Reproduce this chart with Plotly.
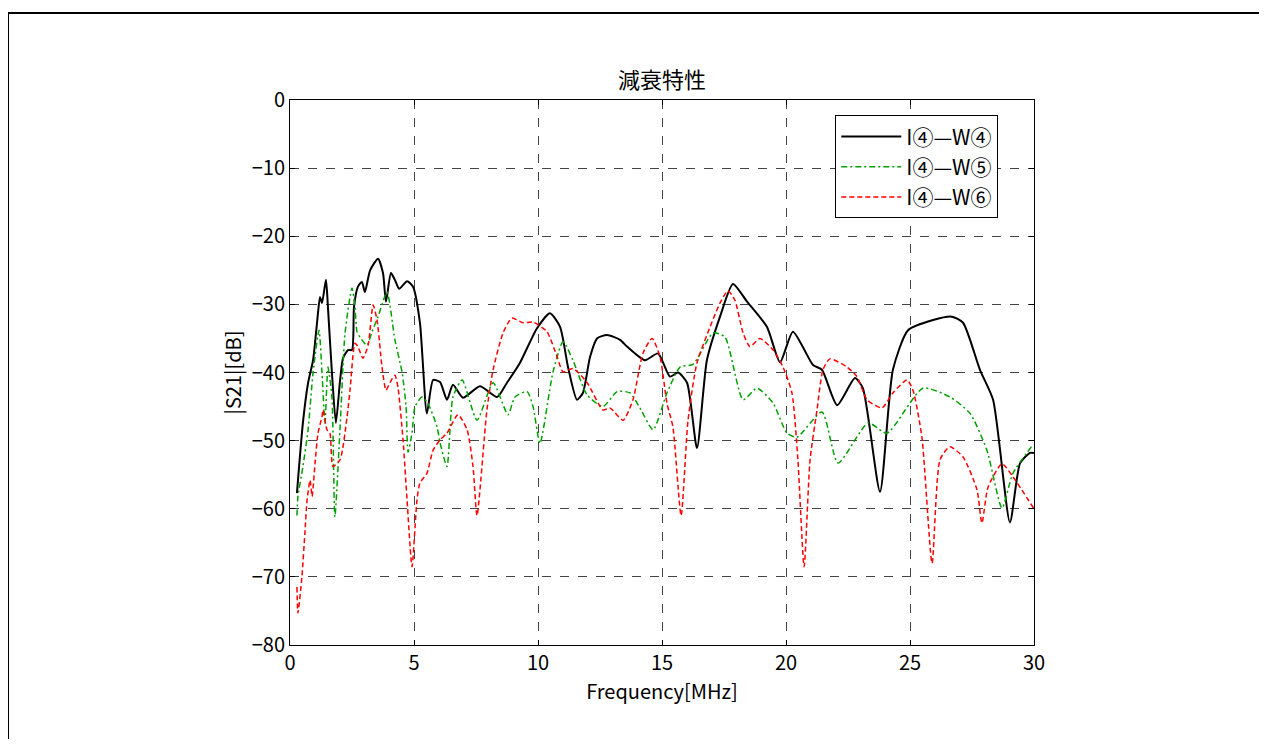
import plotly.graph_objects as go

# I4-W4 (black, solid)
freq_w4 = [0.28, 0.52, 0.73, 0.93, 1.09, 1.21, 1.29, 1.45, 1.53, 1.69, 1.85, 2.02, 2.14, 2.34,
           2.50, 2.58, 2.74, 2.90, 3.02, 3.23, 3.55, 3.75, 3.87, 4.07, 4.23, 4.40, 4.72, 4.96,
           5.24, 5.52, 5.77, 6.05, 6.33, 6.57, 6.98, 7.66, 8.35, 8.75, 9.27, 9.96, 10.48, 10.89,
           11.21, 11.57, 11.81, 12.10, 12.38, 12.78, 13.31, 13.59, 14.31, 14.84, 15.32, 15.65,
           16.01, 16.41, 16.81, 17.34, 17.86, 18.43, 19.23, 19.76, 20.28, 21.09, 21.45, 22.06,
           22.78, 23.10, 23.79, 24.31, 24.92, 25.93, 26.69, 27.14, 27.82, 28.35, 29.03, 29.44,
           29.84, 30.0]
s21_w4 = [-57.7, -47.4, -41.5, -38.2, -32.7, -28.9, -29.8, -26.4, -30.4, -40.0, -47.4, -41.1,
          -37.9, -36.7, -36.7, -30.4, -27.4, -26.7, -28.2, -25.0, -23.3, -25.4, -29.6, -25.4,
          -26.4, -27.7, -26.6, -27.4, -32.7, -46.0, -41.1, -41.4, -44.0, -41.8, -43.7, -42.0,
          -43.6, -41.5, -38.6, -33.5, -31.3, -33.3, -39.2, -44.0, -43.0, -37.7, -35.0, -34.5,
          -35.2, -36.2, -38.2, -37.2, -40.6, -40.0, -41.5, -51.1, -38.2, -31.8, -27.0, -29.6,
          -33.3, -38.5, -34.0, -38.9, -39.6, -44.8, -40.8, -42.3, -57.5, -39.6, -33.8, -32.3,
          -31.8, -32.7, -39.6, -44.0, -62.0, -53.3, -51.8, -51.8]

# I4-W5 (green, dash-dot)
freq_w5 = [0.28, 0.32, 0.52, 0.73, 0.93, 1.17, 1.29, 1.41, 1.53, 1.69, 1.81, 2.02, 2.22, 2.50,
           2.62, 2.70, 2.82, 3.10, 3.31, 3.55, 3.91, 4.23, 4.52, 4.68, 4.76, 4.92, 5.04, 5.32,
           5.56, 5.93, 6.05, 6.33, 6.57, 6.94, 7.54, 8.19, 8.79, 9.07, 9.56, 9.80, 10.08, 10.60,
           11.01, 11.41, 11.98, 12.62, 13.19, 13.71, 14.11, 14.64, 15.20, 15.73, 16.25, 17.06,
           17.54, 18.27, 18.83, 19.48, 20.04, 20.44, 21.45, 22.10, 23.31, 24.07, 25.52, 26.61,
           27.42, 28.10, 28.71, 29.15, 29.96]
s21_w5 = [-61.0, -58.2, -53.8, -48.4, -40.0, -33.8, -40.0, -47.5, -39.2, -43.6, -61.2, -48.0,
          -34.2, -27.6, -30.4, -34.0, -34.8, -36.0, -34.0, -31.8, -28.2, -35.2, -40.0, -45.0,
          -51.7, -48.9, -45.0, -43.6, -44.5, -48.0, -50.3, -53.8, -43.6, -41.1, -47.0, -41.5,
          -46.2, -43.6, -42.8, -45.0, -50.4, -40.0, -35.5, -38.2, -43.3, -45.0, -42.8, -43.0,
          -45.2, -48.4, -43.0, -39.2, -38.8, -34.2, -34.8, -44.0, -42.3, -44.5, -48.9, -49.5,
          -45.8, -53.3, -47.4, -48.9, -42.3, -43.6, -46.0, -51.4, -59.9, -54.8, -50.6]

# I4-W6 (red, dashed)
freq_w6 = [0.28, 0.32, 0.48, 0.60, 0.69, 0.81, 0.89, 1.01, 1.13, 1.29, 1.33, 1.49, 1.61, 1.73,
           2.02, 2.30, 2.42, 2.62, 2.74, 2.94, 3.15, 3.35, 3.51, 3.71, 3.87, 4.03, 4.23, 4.35,
           4.56, 4.72, 4.92, 5.12, 5.24, 5.52, 5.77, 6.05, 6.33, 6.77, 7.14, 7.38, 7.54, 7.94,
           8.19, 8.59, 8.95, 9.40, 9.80, 10.36, 10.77, 11.01, 11.41, 11.98, 12.62, 12.90, 13.43,
           13.83, 14.23, 14.60, 14.92, 15.20, 15.44, 15.77, 16.05, 16.41, 16.94, 17.34, 17.66,
           17.94, 18.27, 18.55, 18.95, 19.48, 19.88, 20.24, 20.48, 20.73, 20.97, 21.25, 21.49,
           21.77, 22.46, 22.86, 23.27, 23.87, 24.31, 24.88, 25.12, 25.48, 25.89, 26.21, 26.61,
           27.14, 27.70, 27.90, 28.15, 28.71, 29.15, 30.0]
s21_w6 = [-71.5, -75.3, -70.0, -63.6, -58.7, -55.8, -58.2, -53.3, -48.9, -46.5, -45.5, -48.4,
          -48.9, -53.8, -52.8, -46.5, -42.6, -35.7, -36.2, -37.9, -36.0, -30.1, -32.3, -39.2,
          -42.6, -41.5, -40.4, -42.1, -50.0, -58.7, -68.5, -58.7, -56.2, -54.8, -51.4, -49.9,
          -48.9, -46.2, -48.4, -53.8, -61.0, -45.5, -39.6, -34.2, -32.0, -32.7, -32.6, -34.0,
          -37.7, -39.9, -39.4, -41.5, -45.5, -45.2, -47.0, -44.0, -37.2, -35.0, -37.7, -44.5,
          -48.0, -61.0, -47.0, -38.6, -33.3, -29.8, -28.0, -29.4, -34.2, -36.2, -35.0, -36.7,
          -39.2, -43.0, -52.8, -68.5, -52.8, -45.5, -39.6, -38.0, -39.2, -40.6, -44.0, -45.2,
          -43.0, -41.1, -42.6, -49.5, -68.0, -52.8, -50.9, -52.4, -57.2, -62.1, -56.8, -53.4,
          -55.3, -60.0]

x_ticks = [0, 5, 10, 15, 20, 25, 30]
y_ticks = [0, -10, -20, -30, -40, -50, -60, -70, -80]

font_jp = "Noto Sans CJK JP"

fig = go.Figure()

fig.add_trace(go.Scatter(
    x=freq_w4, y=s21_w4, mode="lines", name="I④—W④",
    line={"color": "black", "width": 2, "shape": "spline", "smoothing": 0.6},
))
fig.add_trace(go.Scatter(
    x=freq_w5, y=s21_w5, mode="lines", name="I④—W⑤",
    line={"color": "#00a000", "width": 1.5, "dash": "6px,3px,2px,3px",
          "shape": "spline", "smoothing": 0.6},
))
fig.add_trace(go.Scatter(
    x=freq_w6, y=s21_w6, mode="lines", name="I④—W⑥",
    line={"color": "#ff0000", "width": 1.5, "dash": "5px,3px",
          "shape": "spline", "smoothing": 0.6},
))

axis_style = {
    "showline": True, "linecolor": "black", "linewidth": 1, "mirror": "ticks",
    "ticks": "inside", "ticklen": 5, "tickcolor": "black",
    "showgrid": True, "gridcolor": "#444444", "griddash": "dash", "gridwidth": 1,
    "zeroline": False,
    "tickfont": {"family": font_jp, "size": 20, "color": "black"},
}

fig.update_xaxes(
    range=[0, 30], tickvals=x_ticks,
    title={"text": "Frequency[MHz]", "font": {"family": font_jp, "size": 20, "color": "black"},
           "standoff": 2},
    **axis_style,
)
fig.update_yaxes(
    range=[-80, 0], tickvals=y_ticks,
    title={"text": "|S21|[dB]", "font": {"family": font_jp, "size": 20, "color": "black"},
           "standoff": 4},
    **axis_style,
)

# page body has an 8px margin: size the figure so it fits without scrollbars
fig.update_layout(
    width=1251, height=731,
    margin={"l": 282, "r": 225, "t": 92, "b": 94},
    plot_bgcolor="white", paper_bgcolor="white",
    title={"text": "減衰特性", "x": 0.5, "xref": "paper", "y": 1, "yref": "paper",
           "yanchor": "bottom", "pad": {"b": 12},
           "font": {"family": font_jp, "size": 22, "color": "black"}},
    legend={"x": 0.952, "y": 0.972, "xanchor": "right", "yanchor": "top",
            "bgcolor": "white", "bordercolor": "black", "borderwidth": 1,
            "font": {"family": font_jp, "size": 21, "color": "black"},
            "tracegroupgap": 0, "itemwidth": 60},
    showlegend=True,
    shapes=[{"type": "rect", "xref": "paper", "yref": "paper",
             "x0": -0.379, "x1": 1.35, "y0": -0.25, "y1": 1.1596,
             "line": {"color": "black", "width": 2}, "layer": "below"}],
)

fig.write_html("out.html")
